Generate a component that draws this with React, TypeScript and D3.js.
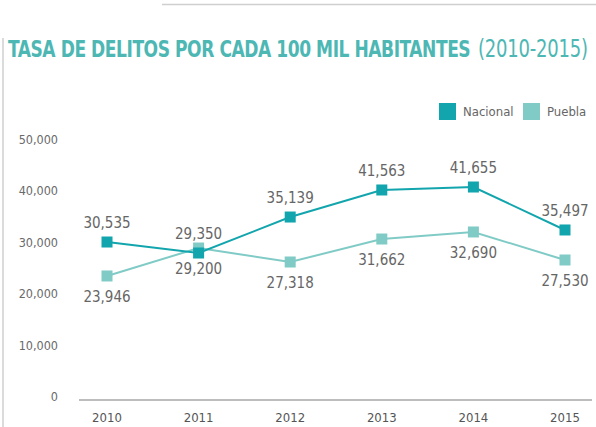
import React, { useEffect, useRef } from 'react'
import { select, scalePoint, scaleLinear, line } from 'd3'

const years = ['2010', '2011', '2012', '2013', '2014', '2015']
// where the markers sit in the picture
const nacional = [29960, 27820, 34820, 40080, 40660, 32300]
const puebla = [23350, 28790, 26070, 30540, 31910, 26460]
// the numbers printed next to them
const nacionalLabels = ['30,535', '29,350', '35,139', '41,563', '41,655', '35,497']
const pueblaLabels = ['23,946', '29,200', '27,318', '31,662', '32,690', '27,530']
const yTicks = [0, 10000, 20000, 30000, 40000, 50000]

const NAC = '#12a5ad'
const PUE = '#80cbc6'
const FONT = '"Liberation Sans Narrow", "DejaVu Sans Condensed", "Roboto Condensed", sans-serif'

const App = () => {
    const svgRef = useRef(null)
    const width = 596
    const height = 427

    useEffect(() => {
        const svg = select(svgRef.current)
        svg.selectAll('*').remove()

        const x = scalePoint().domain(years).range([107, 565])
        const y = scaleLinear().domain([0, 50000]).range([396, 139])

        // frame lines
        svg.append('line').attr('x1', 162).attr('x2', 596).attr('y1', 4.5).attr('y2', 4.5)
            .attr('stroke', '#cfcfcf').attr('stroke-width', 1.5)
        svg.append('line').attr('x1', 3).attr('x2', 3).attr('y1', 38).attr('y2', height)
            .attr('stroke', '#cfcfcf').attr('stroke-width', 1.5)

        // title (stretched vertically a little, the original face is taller and narrower)
        const t = svg.append('g').attr('transform', 'translate(8,57) scale(1,1.25)')
            .attr('font-family', FONT).attr('fill', '#4db7b4')
        t.append('text').attr('x', 0).attr('y', 0)
            .attr('font-size', 19).attr('font-weight', 'bold')
            .attr('letter-spacing', -0.45)
            .text('TASA DE DELITOS POR CADA 100 MIL HABITANTES')
        t.append('text').attr('x', 470).attr('y', 0).attr('font-size', 20)
            .attr('letter-spacing', -0.2)
            .text('(2010-2015)')

        // legend
        const legend = [['Nacional', NAC, 439], ['Puebla', PUE, 523]]
        legend.forEach(([name, c, lx]) => {
            svg.append('rect').attr('x', lx).attr('y', 103).attr('width', 17).attr('height', 17).attr('fill', c)
            svg.append('text').attr('x', +lx + 24).attr('y', 116).attr('font-family', FONT)
                .attr('font-size', 13).attr('fill', '#666').text(name)
        })

        // y tick labels
        svg.append('g').selectAll('text').data(yTicks).enter().append('text')
            .attr('x', 58).attr('y', d => y(d) + 5)
            .attr('text-anchor', 'end').attr('font-family', FONT).attr('font-size', 12.5)
            .attr('fill', '#6a6a6a')
            .text(d => d === 0 ? '0' : d.toLocaleString('en-US'))

        // x axis
        svg.append('line').attr('x1', 79).attr('x2', 592).attr('y1', y(0) + 4).attr('y2', y(0) + 4)
            .attr('stroke', '#bdbdbd').attr('stroke-width', 2)
        svg.append('g').selectAll('text').data(years).enter().append('text')
            .attr('x', d => x(d)).attr('y', 422)
            .attr('text-anchor', 'middle').attr('font-family', FONT).attr('font-size', 13)
            .attr('fill', '#555').text(d => d)

        const series = [
            { values: puebla, labels: pueblaLabels, color: PUE, dy: 26 },
            { values: nacional, labels: nacionalLabels, color: NAC, dy: -14 },
        ]

        series.forEach(s => {
            const pts = years.map((yr, i) => [x(yr), y(s.values[i])])
            svg.append('path').attr('d', line()(pts)).attr('fill', 'none')
                .attr('stroke', s.color).attr('stroke-width', 2)
            svg.append('g').selectAll('rect').data(pts).enter().append('rect')
                .attr('x', d => d[0] - 5.5).attr('y', d => d[1] - 5.5)
                .attr('width', 11).attr('height', 11).attr('fill', s.color)
            svg.append('g').selectAll('text').data(pts).enter().append('text')
                .attr('x', d => d[0]).attr('y', d => d[1] + s.dy)
                .attr('text-anchor', 'middle').attr('font-family', FONT).attr('font-size', 15)
                .attr('fill', '#666').text((d, i) => s.labels[i])
        })
    }, [])

    return (
        <svg ref={svgRef} width={width} height={height}
            style={{ position: 'absolute', left: 0, top: 0, background: '#fff' }} />
    )
}

export default App
